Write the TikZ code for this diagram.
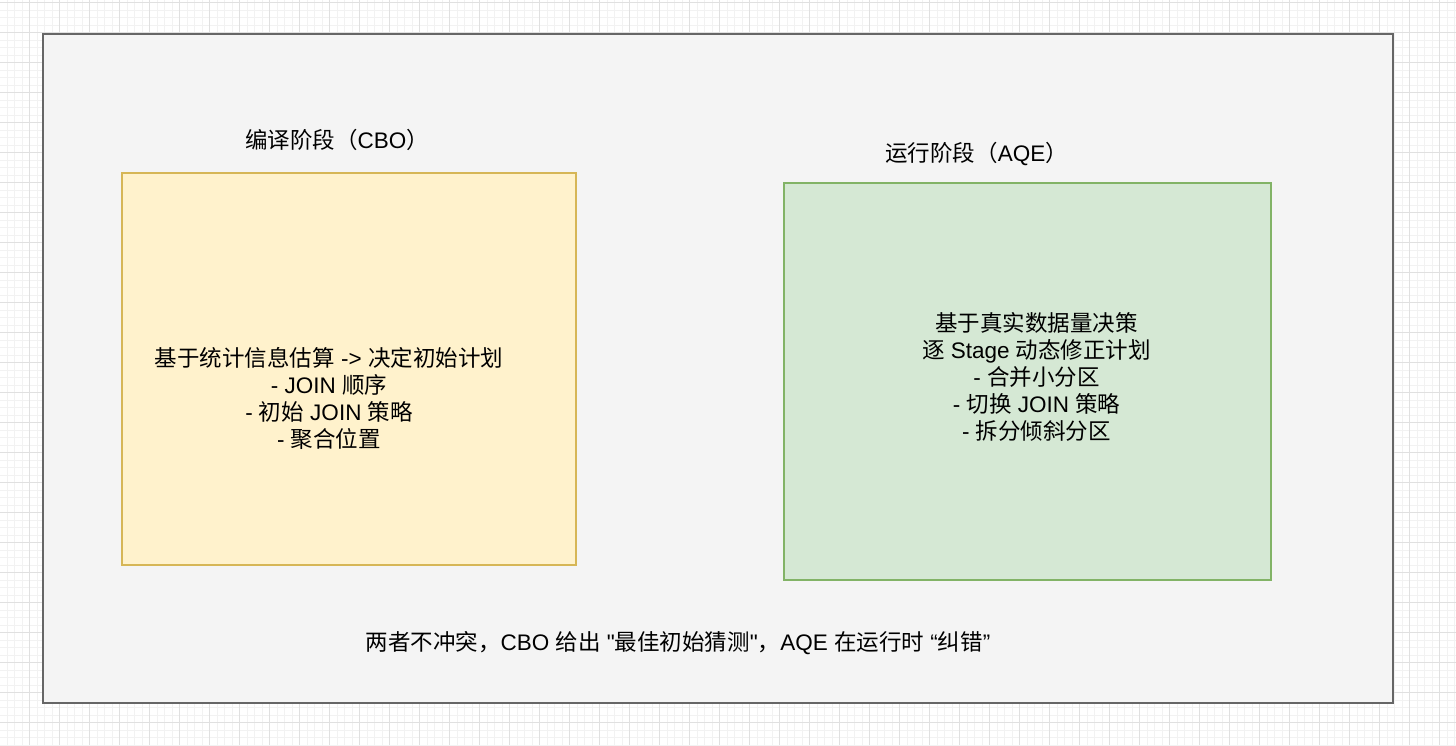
\documentclass[tikz,border=0pt]{standalone}
\usepackage{fontspec}
\newfontfamily\lsans{Liberation Sans}
\newfontfamily\cjk{Noto Sans CJK SC}
\newcommand{\zh}[1]{{\cjk #1}}
\definecolor{gridminor}{HTML}{F2F2F2}
\definecolor{gridmajor}{HTML}{E0E0E0}
\definecolor{contfill}{HTML}{F4F4F4}
\definecolor{contline}{HTML}{666666}
\definecolor{yelfill}{HTML}{FFF2CC}
\definecolor{yelline}{HTML}{D6B656}
\definecolor{grnfill}{HTML}{D5E8D4}
\definecolor{grnline}{HTML}{82B366}
\tikzset{
  minorline/.style={gridminor, line width=1pt},
  majorline/.style={gridmajor, line width=1pt},
  txt/.style={align=center, inner sep=0pt, font=\lsans\fontsize{22.5}{27}\selectfont, text=black},
  phasebox/.style={draw, line width=1.2pt, minimum width=0pt, inner sep=0pt}
}
\begin{document}
\begin{tikzpicture}[x=1pt,y=-1pt]
\useasboundingbox (0,0) rectangle (1456,745);
\fill[white] (0,0) rectangle (1456,745);
\begin{scope}
\clip (0,0) rectangle (1456,745);
\foreach \i in {0,...,195} {
  \draw[minorline] ({-0.5+7.5*\i},0) -- ({-0.5+7.5*\i},745);
}
\foreach \i in {0,...,100} {
  \draw[minorline] (0,{-4.8+7.5*\i}) -- (1456,{-4.8+7.5*\i});
}
\foreach \i in {0,...,49} {
  \draw[majorline] ({-0.5+30*\i},0) -- ({-0.5+30*\i},745);
}
\foreach \i in {0,...,25} {
  \draw[majorline] (0,{2.7+30*\i}) -- (1456,{2.7+30*\i});
}
\end{scope}

\node[draw=contline, fill=contfill, line width=2pt, inner sep=0pt,
      minimum width=1350pt, minimum height=669pt] (container) at (718,368.5) {};

\node[phasebox, draw=yelline, fill=yelfill, minimum width=454pt, minimum height=392pt] (cbo) at (349,369) {};
\node[phasebox, draw=grnline, fill=grnfill, minimum width=487pt, minimum height=397pt] (aqe) at (1027.5,381.5) {};

\node[txt] (cbotitle) at (337,140) {\zh{编译阶段（}CBO\zh{）}};
\node[txt] (aqetitle) at (976.5,154) {\zh{运行阶段（}AQE\zh{）}};

\node[txt] (cbotext) at (329,398.5) {%
  \zh{基于统计信息估算} -> \zh{决定初始计划}\\
  - JOIN \zh{顺序}\\
  - \zh{初始} JOIN \zh{策略}\\
  - \zh{聚合位置}};

\node[txt] (aqetext) at (1036.5,377) {%
  \zh{基于真实数据量决策}\\
  \zh{逐} Stage \zh{动态修正计划}\\
  - \zh{合并小分区}\\
  - \zh{切换} JOIN \zh{策略}\\
  - \zh{拆分倾斜分区}};

\node[txt] (note) at (678,643) {%
  \zh{两者不冲突，}CBO \zh{给出} "\zh{最佳初始猜测}"\zh{，}AQE \zh{在运行时} “\zh{纠错}”};
\end{tikzpicture}
\end{document}
